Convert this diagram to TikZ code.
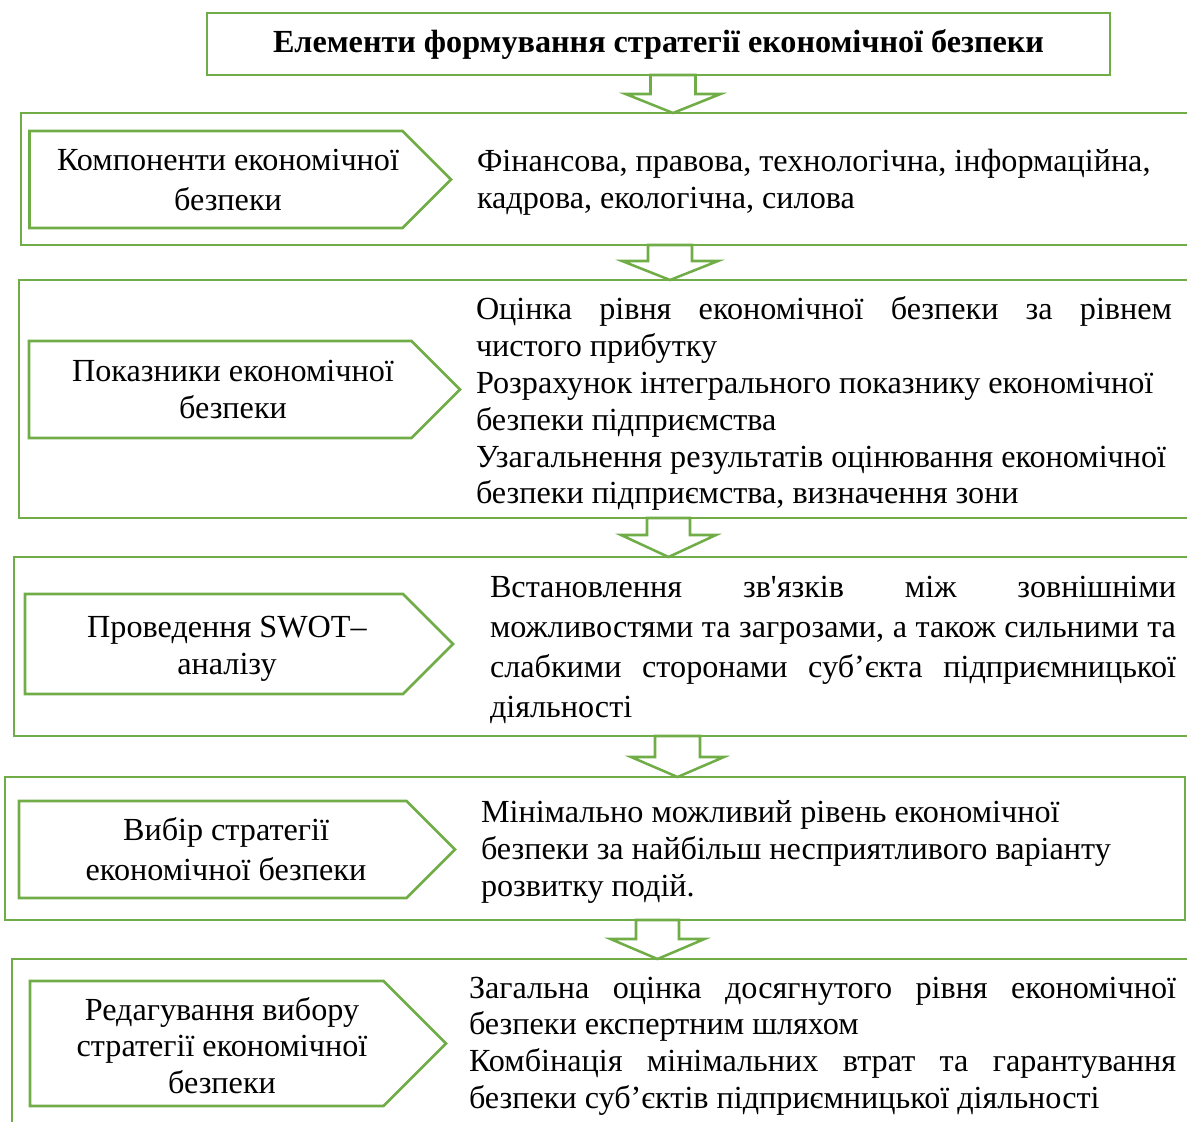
\documentclass[tikz,border=0pt]{standalone}
\usepackage{fontspec}
\setmainfont{Liberation Serif}[Ligatures=TeXOff]
\usetikzlibrary{shapes.symbols}
\definecolor{grn}{HTML}{70AD47}
\newlength\pxu \setlength\pxu{0.435pt}
\newcommand\leftlines[1]{\vtop{\halign{##\hfil\cr#1\crcr}}}
\newcommand\centerlines[1]{\vtop{\halign{\hfil##\hfil\cr#1\crcr}}}
\newcommand\just[2]{\hbox to #1\pxu{#2}}
\newcommand\fsz[1]{\fontsize{14pt}{#1pt}\selectfont}
% cx, ytop, yhead, ybottom, shaft half width, head half width
\newcommand\blockarrow[6]{%
  \filldraw[arrowline] (#1-#5,#2) -- (#1-#5,#3) -- (#1-#6,#3) -- (#1,#4) -- (#1+#6,#3) -- (#1+#5,#3) -- (#1+#5,#2) -- cycle;}
\begin{document}
\begin{tikzpicture}[x=0.435pt,y=-0.435pt,
  frame/.style={draw=grn,line width=1.1pt,inner sep=0pt,outer sep=0pt,anchor=north west},
  tag/.style={signal,signal from=nowhere,signal to=east,signal pointer angle=90,draw=grn,line width=1.1pt,inner sep=0pt,outer sep=0pt,anchor=west},
  txt/.style={inner sep=0pt,outer sep=0pt,anchor=base west},
  ctxt/.style={inner sep=0pt,outer sep=0pt,anchor=base},
  arrowline/.style={draw=grn,fill=white,line width=1.1pt,line join=miter}]
\useasboundingbox (0,0) rectangle (1187,1122);
\clip (0,0) rectangle (1187,1122);

% frames
\node[frame,minimum width=903\pxu,minimum height=62\pxu] (ttlbox) at (207,13) {};
\node[frame,minimum width=1190\pxu,minimum height=132\pxu] (f1) at (21,113) {};
\node[frame,minimum width=1190\pxu,minimum height=238\pxu] (f2) at (19,280) {};
\node[frame,minimum width=1190\pxu,minimum height=179\pxu] (f3) at (14,557) {};
\node[frame,minimum width=1180\pxu,minimum height=143\pxu] (f4) at (5,777) {};
\node[frame,minimum width=1190\pxu,minimum height=200\pxu] (f5) at (12,959) {};

% block arrows
\blockarrow{673}{75}{94}{113}{22.5}{47.5}
\blockarrow{670}{245}{261}{280}{22}{48}
\blockarrow{668.5}{518}{535}{557}{21.5}{47.5}
\blockarrow{677.5}{736}{757}{777}{22.5}{46.5}
\blockarrow{657.5}{920}{939}{959}{21.5}{47}

% pentagon tags
\node[tag,minimum width=421.5\pxu,minimum height=97\pxu] (p1) at (29.5,179.5) {};
\node[tag,minimum width=431\pxu,minimum height=97\pxu] (p2) at (29,389.5) {};
\node[tag,minimum width=428\pxu,minimum height=100\pxu] (p3) at (25,644) {};
\node[tag,minimum width=436\pxu,minimum height=97\pxu] (p4) at (19,849.5) {};
\node[tag,minimum width=416\pxu,minimum height=125\pxu] (p5) at (30,1043.5) {};

% title
\node[ctxt,font=\fsz{16}\bfseries] (ttl) at (658.5,53) {Елементи формування стратегії економічної безпеки};

% tag texts
\node[ctxt,font=\fsz{17.4}] (t1) at (228,171) {\centerlines{Компоненти економічної\cr безпеки}};
\node[ctxt,font=\fsz{15.9}] (t2) at (233,382) {\centerlines{Показники економічної\cr безпеки}};
\node[ctxt,font=\fsz{16.1}] (t3) at (227,637) {\centerlines{Проведення SWOT–\cr аналізу}};
\node[ctxt,font=\fsz{17.4}] (t4) at (226,840) {\centerlines{Вибір стратегії\cr економічної безпеки}};
\node[ctxt,font=\fsz{15.9}] (t5) at (222,1020) {\centerlines{Редагування вибору\cr стратегії економічної\cr безпеки}};

% content texts
\node[txt,font=\fsz{16}] (c1) at (477,172) {\leftlines{Фінансова, правова, технологічна, інформаційна,\cr кадрова, екологічна, силова}};
\node[txt,font=\fsz{16}] (c2) at (476,320) {\leftlines{\just{696}{Оцінка рівня економічної безпеки за рівнем}\cr чистого прибутку\cr Розрахунок інтегрального показнику економічної\cr безпеки підприємства\cr Узагальнення результатів оцінювання економічної\cr безпеки підприємства, визначення зони}};
\node[txt,font=\fsz{17.4}] (c3) at (490,597) {\leftlines{\just{686}{Встановлення зв'язків між зовнішніми}\cr \just{686}{можливостями та загрозами, а також сильними та}\cr \just{686}{слабкими сторонами суб’єкта підприємницької}\cr діяльності}};
\node[txt,font=\fsz{16.3}] (c4) at (481,822) {\leftlines{Мінімально можливий рівень економічної\cr безпеки за найбільш несприятливого варіанту\cr розвитку подій.}};
\node[txt,font=\fsz{16}] (c5) at (469,998) {\leftlines{\just{707}{Загальна оцінка досягнутого рівня економічної}\cr безпеки експертним шляхом\cr \just{707}{Комбінація мінімальних втрат та гарантування}\cr безпеки суб’єктів підприємницької діяльності}};
\end{tikzpicture}
\end{document}
